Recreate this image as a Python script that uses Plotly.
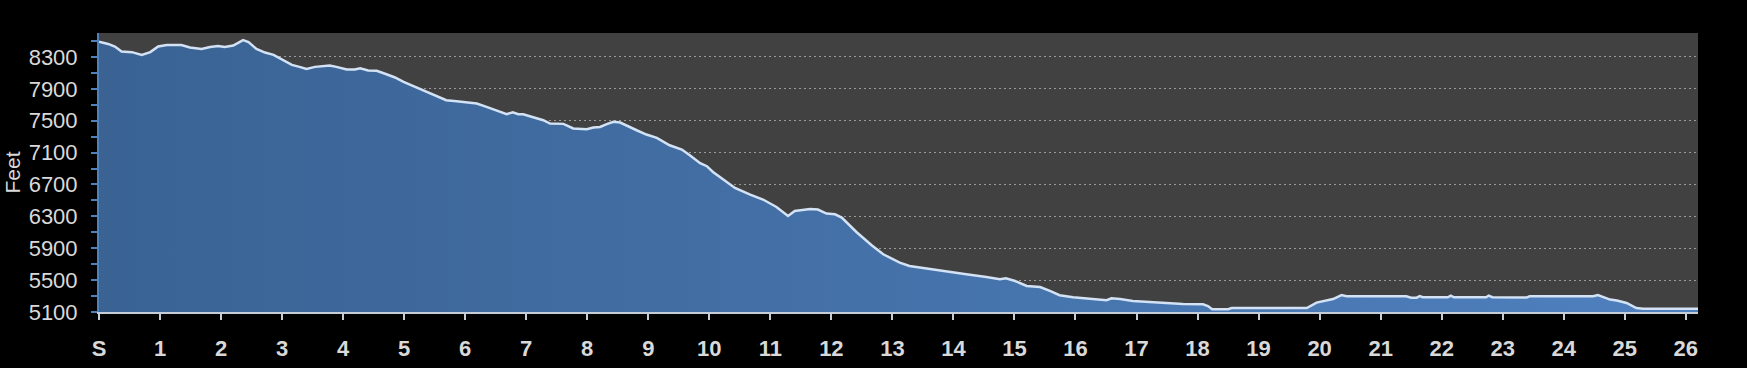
import plotly.graph_objects as go

miles = [0, 0.15, 0.26, 0.37, 0.54, 0.70, 0.84, 0.97, 1.11, 1.35, 1.49, 1.68, 1.82, 1.95, 2.06, 2.20,
         2.36, 2.45, 2.58, 2.72, 2.86, 2.99, 3.16, 3.27, 3.40, 3.54, 3.78, 3.89, 4.06, 4.19, 4.28, 4.41,
         4.55, 4.71, 4.85, 4.99, 5.15, 5.34, 5.48, 5.69, 5.86, 6.02, 6.19, 6.35, 6.57, 6.68, 6.78, 6.87,
         6.95, 7.11, 7.28, 7.39, 7.61, 7.77, 7.99, 8.10, 8.21, 8.32, 8.43, 8.54, 8.67, 8.81, 8.97, 9.14,
         9.35, 9.55, 9.68, 9.85, 9.96, 10.06, 10.23, 10.42, 10.67, 10.88, 11.10, 11.29, 11.40, 11.65,
         11.78, 11.92, 12.06, 12.17, 12.41, 12.66, 12.85, 13.12, 13.28, 13.56, 13.83, 14.21, 14.54,
         14.76, 14.86, 15.01, 15.20, 15.42, 15.58, 15.74, 15.96, 16.18, 16.40, 16.51, 16.59, 16.73,
         16.94, 17.22, 17.49, 17.76, 18.09, 18.17, 18.24, 18.50, 18.56, 19.79, 19.95, 20.12, 20.22,
         20.36, 20.44, 21.42, 21.50, 21.59, 21.64, 21.69, 22.10, 22.15, 22.20, 22.73, 22.77, 22.83,
         23.39, 23.44, 24.48, 24.56, 24.62, 24.76, 24.87, 25.03, 25.19, 25.30, 26.2]

elevation_ft = [8490, 8463, 8430, 8368, 8360, 8325, 8360, 8430, 8450, 8450, 8418, 8400, 8425, 8438, 8425, 8443,
                8510, 8485, 8400, 8355, 8325, 8271, 8200, 8178, 8150, 8175, 8192, 8175, 8142, 8142, 8158, 8130,
                8125, 8083, 8042, 7987, 7933, 7874, 7820, 7757, 7744, 7728, 7715, 7673, 7610, 7581, 7606, 7581,
                7581, 7547, 7506, 7464, 7460, 7402, 7393, 7414, 7422, 7456, 7485, 7477, 7435, 7380, 7326, 7284,
                7192, 7138, 7067, 6966, 6929, 6857, 6762, 6656, 6573, 6511, 6418, 6305, 6368, 6393,
                6385, 6335, 6326, 6285, 6104, 5937, 5824, 5720, 5677, 5645, 5607, 5573, 5539,
                5510, 5523, 5489, 5426, 5414, 5364, 5310, 5285, 5268, 5250, 5247, 5272, 5263,
                5238, 5225, 5213, 5200, 5197, 5175, 5134, 5134, 5150, 5150, 5218, 5247, 5263,
                5313, 5297, 5297, 5280, 5280, 5300, 5285, 5285, 5306, 5285, 5285, 5306, 5285,
                5281, 5297, 5297, 5313, 5297, 5256, 5243, 5213, 5150, 5142, 5142]

tick_miles = list(range(0, 27))
tick_labels = ["S"] + [str(i) for i in range(1, 27)]

fig = go.Figure()
fig.add_trace(go.Scatter(
    x=miles, y=elevation_ft, mode="lines",
    line=dict(color="#d3e2f4", width=2.5),
    fill="tozeroy",
    fillgradient=dict(type="horizontal", colorscale=[[0, "#3a6394"], [1, "#4f80be"]]),
    hoverinfo="skip", showlegend=False,
))

fig.update_layout(
    width=1747, height=368,
    margin=dict(l=99, r=49, t=33, b=56),
    paper_bgcolor="#000000",
    plot_bgcolor="#414141",
    font=dict(family="Liberation Sans, Arial, sans-serif", color="#d9d9d9"),
    xaxis=dict(
        range=[0, 26.2], tickmode="array", tickvals=tick_miles, ticktext=tick_labels,
        automargin=False,
        showgrid=False, zeroline=False,
        showline=True, linecolor="#c5cdd8", linewidth=2,
        ticks="outside", ticklen=6, tickwidth=2, tickcolor="#c5cdd8",
        tickfont=dict(size=22, color="#d9d9d9", family="Liberation Sans, Arial, sans-serif", weight="bold"),
        ticklabelstandoff=10,
    ),
    yaxis=dict(
        range=[5100, 8600], tickmode="linear", tick0=5100, dtick=400,
        automargin=False,
        showgrid=True, gridcolor="#9a9a9a", gridwidth=1, griddash="2px,3px",
        zeroline=False,
        showline=True, linecolor="#4f81bd", linewidth=2,
        ticks="outside", ticklen=6, tickwidth=2, tickcolor="#4f81bd",
        minor=dict(dtick=200, tick0=5100, ticks="outside", ticklen=6, tickwidth=2,
                   tickcolor="#4f81bd", showgrid=False),
        tickfont=dict(size=22, color="#d9d9d9"),
        ticklabelstandoff=9,
        title=dict(text="Feet", font=dict(size=21, color="#d9d9d9"), standoff=2),
    ),
)

fig.write_html(
    "out.html",
    config={"displayModeBar": False},
    post_script="document.body.style.margin='0';document.body.style.background='#000';",
)
